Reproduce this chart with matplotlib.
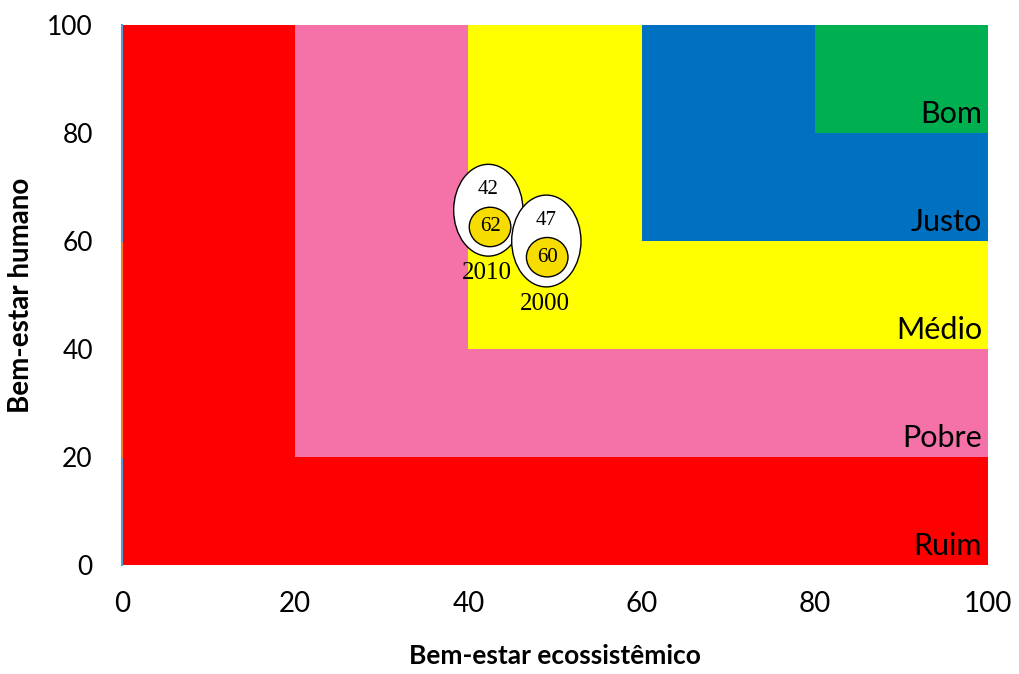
import matplotlib
matplotlib.use("Agg")
import matplotlib.pyplot as plt
from matplotlib.patches import Ellipse, Rectangle

# Zone thresholds (lower bound of each zone) and labels
zone_lower = [0, 20, 40, 60, 80]
zone_labels = ["Ruim", "Pobre", "Médio", "Justo", "Bom"]
zone_colors = ["#FF0000", "#F472A8", "#FFFF00", "#0070C0", "#00B050"]

# Assessment years and values
years = ["2010", "2000"]
eco_values = [42, 47]      # bem-estar ecossistêmico (upper number)
human_values = [62, 60]    # bem-estar humano (inner circle)
# positions of the bubbles
bubble_x = [42.3, 49.0]
bubble_y = [65.7, 60.0]
inner_x = [42.5, 49.1]
inner_y = [62.6, 57.0]

xticks = [0, 20, 40, 60, 80, 100]
yticks = [0, 20, 40, 60, 80, 100]

fig = plt.figure(figsize=(10.2, 6.74), dpi=100)
ax = fig.add_axes([122/1020, 1-565/674, (988-122)/1020, (565-25)/674])
ax.set_xlim(0, 100)
ax.set_ylim(0, 100)

for lo, col in zip(zone_lower, zone_colors):
    ax.add_patch(Rectangle((lo, lo), 100 - lo, 100 - lo, facecolor=col,
                           edgecolor="none", zorder=1))

# thin edge lines at the left border (series outlines)
ax.plot([0, 0], [0, 20], color="#5B9BD5", lw=1.5, clip_on=False, zorder=2)
ax.plot([0, 0], [20, 60], color="#ED7D31", lw=1.5, clip_on=False, zorder=2)
ax.plot([0, 0], [60, 100], color="#5B9BD5", lw=1.5, clip_on=False, zorder=2)

for lo, lab in zip(zone_lower, zone_labels):
    ax.text(99.3, lo + 1.0, lab, ha="right", va="bottom", fontsize=22,
            family="Lato", color="black", zorder=3)

for i in range(len(years)):
    ax.add_patch(Ellipse((bubble_x[i], bubble_y[i]), 8.0, 17.0,
                         facecolor="white", edgecolor="black", lw=1.0,
                         zorder=4 + i * 2))
    ax.add_patch(Ellipse((inner_x[i], inner_y[i]), 4.8, 7.3,
                         facecolor="#F7DC00", edgecolor="black", lw=1.0,
                         zorder=5 + i * 2))
    ax.text(bubble_x[i], bubble_y[i] + 3.8, str(eco_values[i]), ha="center",
            va="center", fontsize=15, family="Liberation Serif", zorder=10)
    ax.text(inner_x[i], inner_y[i], str(human_values[i]), ha="center",
            va="center", fontsize=15, family="Liberation Serif", zorder=10)
    ax.text(bubble_x[i] - 0.2, bubble_y[i] - 11.6, years[i], ha="center",
            va="center", fontsize=18, family="Liberation Serif", zorder=10)

ax.set_xticks(xticks)
ax.set_yticks(yticks)
ax.set_xticklabels([str(t) for t in xticks], family="Lato", fontsize=20)
ax.set_yticklabels([str(t) for t in yticks], family="Lato", fontsize=19)
ax.tick_params(axis="x", length=0, pad=19)
ax.tick_params(axis="y", length=0, pad=21)
for s in ax.spines.values():
    s.set_visible(False)

ax.set_xlabel("Bem-estar ecossistêmico", family="Lato", fontweight="bold",
              fontsize=19, labelpad=19)
ax.set_ylabel("Bem-estar humano", family="Lato", fontweight="bold",
              fontsize=20)
ax.yaxis.set_label_coords(-0.102, 0.5)

fig.savefig("out.png", dpi=100)
